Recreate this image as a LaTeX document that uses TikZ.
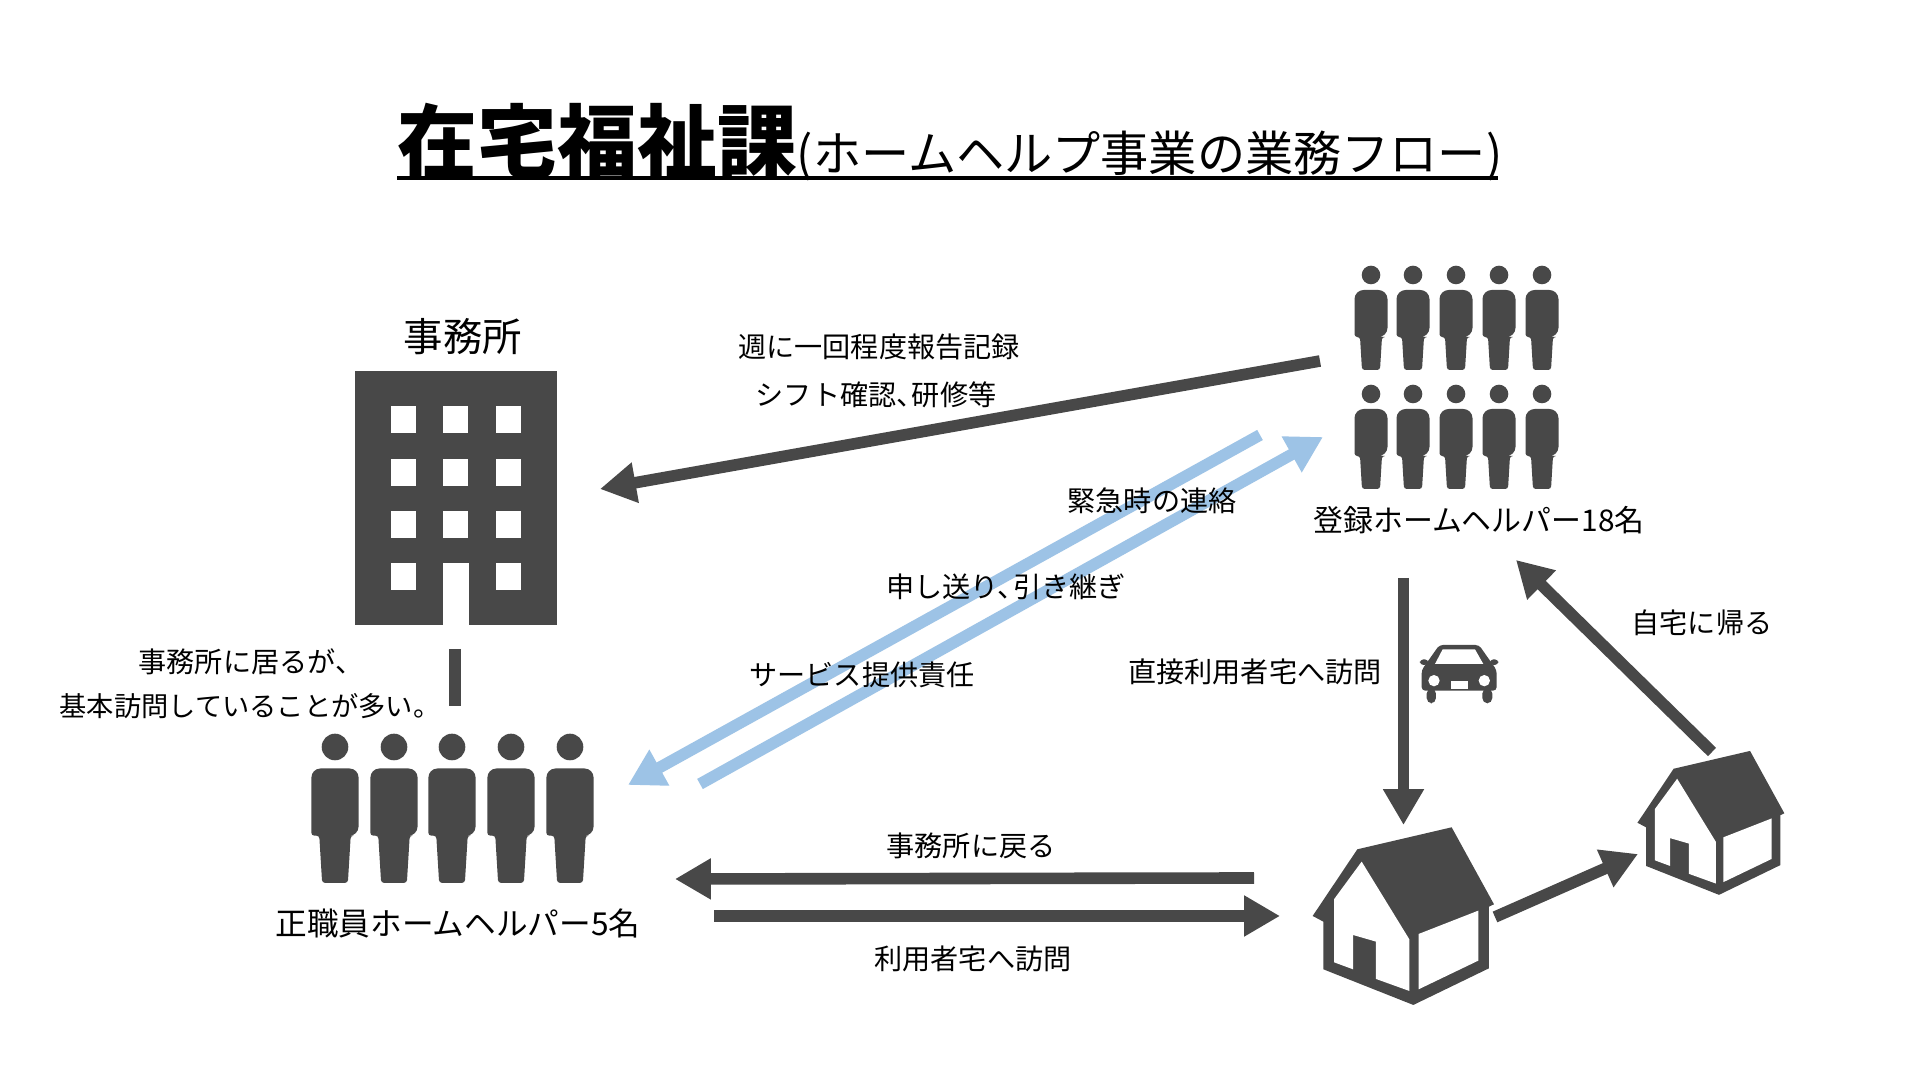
\documentclass[tikz,border=0pt]{standalone}
\usepackage{fontspec}
\setmainfont{Noto Sans CJK JP}
\usepackage{xcolor}
\usetikzlibrary{
  arrows.meta,
  positioning,
}
\definecolor{icondark}{HTML}{484848}
\definecolor{linkblue}{HTML}{9DC3E6}

\begin{document}
\begin{tikzpicture}[
    x=0.01cm, y=-0.01cm,
    lbl/.style={inner sep=0pt, font=\fontsize{8}{10}\selectfont},
    grouplbl/.style={inner sep=0pt, font=\fontsize{8.5}{10}\selectfont},
    flow/.style={draw=icondark, line width=3.3pt,
                 -{Triangle[length=10.2pt, width=11pt]}},
    bluelink/.style={flow, draw=linkblue},
    person/.pic={
      \fill[icondark] (0,0) circle (9.3);
      \fill[icondark, rounded corners=2.6pt]
        (-16.5,15) -- (16.5,15) -- (16.5,62) [rounded corners=0.8pt] -- (11,62)
        -- (9,95) -- (-9,95) -- (-11,62) -- (-16.5,62) [rounded corners=2.6pt] -- cycle;
    },
    house/.pic={
      \fill[icondark] (98,888) -- (232,688) -- (515,622) -- (642,853) -- (627,860)
        -- (627,1045) -- (400,1155) -- (130,1048) -- (130,905) -- cycle;
      \fill[white] (162,838) -- (245,725) -- (388,958) -- (388,1113) -- (288,1077)
        -- (288,965) -- (219,945) -- (219,1048) -- (162,1027) -- cycle;
      \fill[white] (416,942) -- (595,872) -- (595,1022) -- (416,1108) -- cycle;
    },
  ]
  \useasboundingbox (0,0) rectangle (1920,1080);
  \fill[white] (0,0) rectangle (1920,1080);

  % heading
  \node[inner sep=0pt, anchor=base west] (title) at (397,172)
    {\fontsize{22.7}{26}\selectfont\bfseries 在宅福祉課\fontsize{13.7}{16}\selectfont\mdseries (ホームヘルプ事業の業務フロー)};
  \coordinate (ruleL) at (397,178);
  \coordinate (ruleR) at (1498,178);
  \draw[line width=0.9pt] (ruleL) -- (ruleR);

  % office block
  \fill[icondark] (355,371) rectangle (557,625);
  \foreach \wx in {391,443,496}
    \foreach \wy in {406,459,511}
      \fill[white] (\wx,\wy) rectangle ++(25,27);
  \fill[white] (391,563) rectangle ++(25,27);
  \fill[white] (496,563) rectangle ++(25,27);
  \fill[white] (443,563) rectangle (469,625);
  \node[inner sep=0pt, font=\fontsize{11.2}{14}\selectfont] (office) at (463,337) {事務所};

  % registered helpers
  \foreach \py in {275,394}
    \foreach \px in {1371,1413,1456,1499,1542}
      \pic at (\px,\py) {person};
  \node[grouplbl] (regname) at (1479,520) {登録ホームヘルパー18名};

  % staff helpers
  \foreach \px in {335,394,452,511,570}
    \pic[scale=1.43] at (\px,747) {person};
  \node[grouplbl, font=\fontsize{9}{10}\selectfont] (staffname) at (458,923) {正職員ホームヘルパー5名};

  % houses
  \pic[scale=0.3333] at (1280,620) {house};
  \pic[scale=0.27] at (1611,583) {house};

  % car
  \begin{scope}[shift={(1280,620)}, scale=0.3333]
    \fill[icondark, rounded corners=1pt] (478,75) -- (597,75) -- (630,122) -- (650,150)
      -- (650,212) -- (425,212) -- (425,150) -- (445,122) -- cycle;
    \fill[icondark, rounded corners=1pt] (420,118) rectangle (445,135);
    \fill[icondark, rounded corners=1pt] (630,118) rectangle (655,135);
    \fill[icondark, rounded corners=1.5pt] (440,205) rectangle (468,250);
    \fill[icondark, rounded corners=1.5pt] (607,205) rectangle (637,250);
    \fill[white] (488,88) -- (585,88) -- (610,132) -- (465,132) -- cycle;
    \fill[white] (462,182) circle (17);
    \fill[white] (613,182) circle (17);
    \fill[white] (512,183) rectangle (563,207);
  \end{scope}

  % arrow ends
  \coordinate (reportA) at (1320,361);
  \coordinate (reportB) at (600,489);
  \coordinate (handA) at (1260,435);
  \coordinate (handB) at (628,785);
  \coordinate (urgentA) at (700,784);
  \coordinate (urgentB) at (1323,437);
  \coordinate (directA) at (1403.5,578);
  \coordinate (directB) at (1403.5,825);
  \coordinate (nextA) at (1495,917);
  \coordinate (nextB) at (1638,854);
  \coordinate (homeA) at (1712,752);
  \coordinate (homeB) at (1516,560);
  \coordinate (backA) at (1254,878);
  \coordinate (backB) at (675,879);
  \coordinate (visitA) at (714,916);
  \coordinate (visitB) at (1280,916);
  \coordinate (tieA) at (455,649);
  \coordinate (tieB) at (455,706);

  \draw[flow] (reportA) -- (reportB);
  \draw[bluelink] (handA) -- (handB);
  \draw[bluelink] (urgentA) -- (urgentB);
  \draw[flow] (directA) -- (directB);
  \draw[flow] (nextA) -- (nextB);
  \draw[flow] (homeA) -- (homeB);
  \draw[flow] (backA) -- (backB);
  \draw[flow] (visitA) -- (visitB);
  \draw[icondark, line width=3.4pt] (tieA) -- (tieB);

  % labels
  \node[lbl] (report1) at (879,347) {週に一回程度報告記録};
  \node[lbl] (report2) at (876,395) {シフト確認、\kern-0.45em 研修等};
  \node[lbl] (urgent) at (1152,501) {緊急時の連絡};
  \node[lbl] (handover) at (1006,587) {申し送り、\kern-0.45em 引き継ぎ};
  \node[lbl] (service) at (862,675) {サービス提供責任};
  \node[lbl] (direct) at (1255,672) {直接利用者宅へ訪問};
  \node[lbl] (gohome) at (1702,623) {自宅に帰る};
  \node[lbl, anchor=west] (stay1) at (138,662) {事務所に居るが、};
  \node[lbl, anchor=west, font=\fontsize{7.75}{10}\selectfont] (stay2) at (59,706) {基本訪問していることが多い。};
  \node[lbl] (goback) at (971,846) {事務所に戻る};
  \node[lbl] (visit) at (973,959) {利用者宅へ訪問};
\end{tikzpicture}
\end{document}
